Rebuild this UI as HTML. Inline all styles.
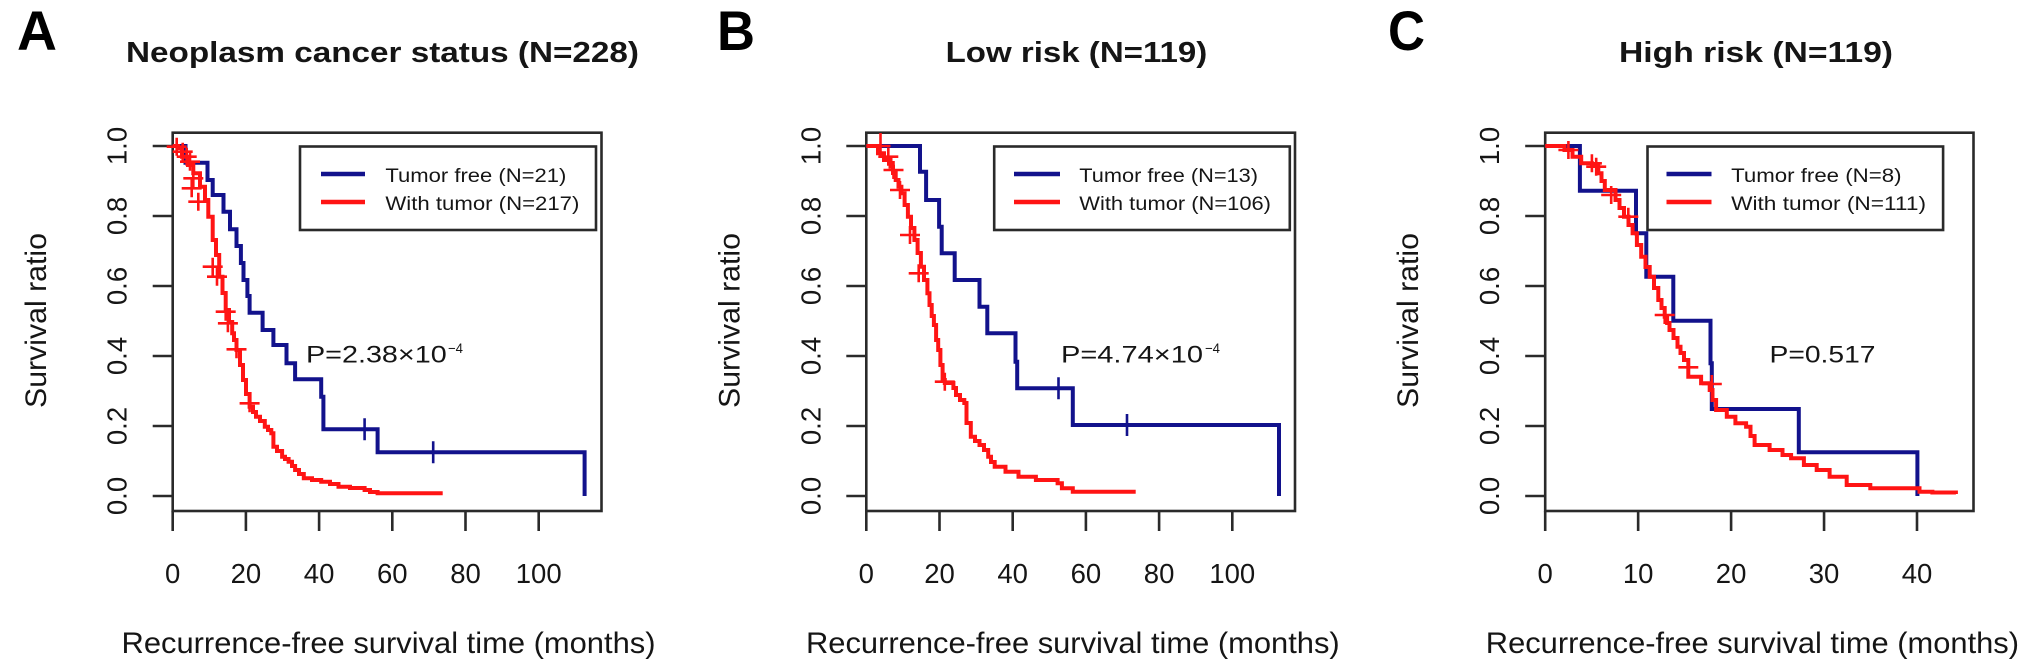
<!DOCTYPE html>
<html>
<head>
<meta charset="utf-8">
<style>
  html,body{margin:0;padding:0;background:#fff;}
  svg{display:block;}
  text{font-family:"Liberation Sans",Arial,sans-serif;fill:#151515;}
  .ttl{font-weight:bold;font-size:29px;}
  .lab{font-weight:bold;font-size:56px;fill:#000;}
  .tick{font-size:27.5px;}
  .ytick{font-size:27.5px;}
  .axt{font-size:29.5px;}
  .leg{font-size:19.5px;}
  .pv{font-size:24px;}
  .sup{font-size:14px;}
  .box{fill:none;stroke:#2a2a2a;stroke-width:2.6;}
  .tk{stroke:#2a2a2a;stroke-width:2.6;}
  .blue{fill:none;stroke:#12128c;stroke-width:4;stroke-linejoin:miter;}
  .red{fill:none;stroke:#ff1414;stroke-width:4;stroke-linejoin:miter;}
  .rc{fill:none;stroke:#ff1414;stroke-width:2.6;}
  .bc{fill:none;stroke:#12128c;stroke-width:2.6;}
</style>
</head>
<body>
<svg width="2031" height="664" viewBox="0 0 2031 664" xmlns="http://www.w3.org/2000/svg">
<rect width="2031" height="664" fill="#fff"/>

<!-- ================= PANEL A ================= -->
<text class="lab" x="17" y="50" textLength="40" lengthAdjust="spacingAndGlyphs">A</text>
<text class="ttl" x="126" y="62" textLength="513" lengthAdjust="spacingAndGlyphs">Neoplasm cancer status (N=228)</text>
<rect class="box" x="172.7" y="132.7" width="428.8" height="378.3"/>
<path class="tk" d="M152.7,146H172.7M152.7,216H172.7M152.7,286H172.7M152.7,356H172.7M152.7,426H172.7M152.7,496H172.7"/>
<g class="ytick" text-anchor="middle">
<text transform="translate(126.7,146) rotate(-90)">1.0</text>
<text transform="translate(126.7,216) rotate(-90)">0.8</text>
<text transform="translate(126.7,286) rotate(-90)">0.6</text>
<text transform="translate(126.7,356) rotate(-90)">0.4</text>
<text transform="translate(126.7,426) rotate(-90)">0.2</text>
<text transform="translate(126.7,496) rotate(-90)">0.0</text>
</g>
<text class="axt" text-anchor="middle" transform="translate(46,320.5) rotate(-90)" textLength="175" lengthAdjust="spacingAndGlyphs">Survival ratio</text>
<path class="tk" d="M172.7,511V531M245.9,511V531M319.1,511V531M392.3,511V531M465.5,511V531M538.7,511V531"/>
<g class="tick" text-anchor="middle">
<text x="172.7" y="583">0</text>
<text x="245.9" y="583">20</text>
<text x="319.1" y="583">40</text>
<text x="392.3" y="583">60</text>
<text x="465.5" y="583">80</text>
<text x="538.7" y="583">100</text>
</g>
<text class="axt" x="121.5" y="653" textLength="534" lengthAdjust="spacingAndGlyphs">Recurrence-free survival time (months)</text>
<rect class="box" x="300" y="146.5" width="296" height="83.5"/>
<path d="M321,174H365" stroke="#12128c" stroke-width="4.4"/>
<path d="M321,202H365" stroke="#ff1414" stroke-width="4.4"/>
<text class="leg" x="385.4" y="182" textLength="181" lengthAdjust="spacingAndGlyphs">Tumor free (N=21)</text>
<text class="leg" x="385.4" y="210" textLength="194" lengthAdjust="spacingAndGlyphs">With tumor (N=217)</text>
<text class="pv" x="306" y="362.7" textLength="140.7" lengthAdjust="spacingAndGlyphs">P=2.38×10</text>
<text class="sup" x="448" y="353" textLength="15" lengthAdjust="spacingAndGlyphs">−4</text>
<path class="blue" d="M172.7,146H185.5V162.7H207.5V180H212.7V195H223.5V211.7H230V229.3H236.5V246H240.9V263H243.5V280H247.4V296H249.6V312.7H262.6V330H273.4V345H286.5V363.3H295.1V379.3H321.2V396.7H323.4V429.3H377.6V452.3H584.6V496"/>
<path class="bc" d="M364.6,418.3V440.3M433.2,441.3V463.3"/>
<path class="red" d="M172.7,146H178V148H182V156.7H188V165H193.3V173.3H200V186.7H205V200H208.3V216.7H212.7V240H216V255H219.2V276.7H222.5V293H225.7V310H229V322H232.2V333.3H234V340H236.5V350H240V365H243V380H246V394H249.6V406.7H253V412H256V416.7H260V421H264.8V426.7H268V430H271.3V433.3H273.4V446.7H277V451H282.1V456.7H285V459H288.6V461.7H292V466H295.1V470H299V474H303.8V478.3H312V480H321.2V481.7H330V484H338.5V486.7H350V488H364.6V490H370V492H377.6V493.3H442.7"/>
<path class="rc" d="
M166.7,146.7h20M176.7,137.7v18
M172.7,151.7h20M182.7,142.7v18
M176.7,156.7h20M186.7,147.7v18
M180,161.7h20M190,152.7v18
M183.3,178.3h20M193.3,169.3v18
M181.7,188.3h20M191.7,179.3v18
M188.3,201.7h20M198.3,192.7v18
M202.7,266.7h20M212.7,257.7v18
M207,276.7h20M217,267.7v18
M215.7,311.7h20M225.7,302.7v18
M217.9,323.3h20M227.9,314.3v18
M226.5,349.3h20M236.5,340.3v18
M239.6,403.3h20M249.6,394.3v18"/>

<!-- ================= PANEL B ================= -->
<text class="lab" x="717" y="50" textLength="38" lengthAdjust="spacingAndGlyphs">B</text>
<text class="ttl" x="945.6" y="62" textLength="261.7" lengthAdjust="spacingAndGlyphs">Low risk (N=119)</text>
<rect class="box" x="866.3" y="132.7" width="428.7" height="378.3"/>
<path class="tk" d="M846.3,146H866.3M846.3,216H866.3M846.3,286H866.3M846.3,356H866.3M846.3,426H866.3M846.3,496H866.3"/>
<g class="ytick" text-anchor="middle">
<text transform="translate(820.3,146) rotate(-90)">1.0</text>
<text transform="translate(820.3,216) rotate(-90)">0.8</text>
<text transform="translate(820.3,286) rotate(-90)">0.6</text>
<text transform="translate(820.3,356) rotate(-90)">0.4</text>
<text transform="translate(820.3,426) rotate(-90)">0.2</text>
<text transform="translate(820.3,496) rotate(-90)">0.0</text>
</g>
<text class="axt" text-anchor="middle" transform="translate(739.3,320.5) rotate(-90)" textLength="175" lengthAdjust="spacingAndGlyphs">Survival ratio</text>
<path class="tk" d="M866.3,511V531M939.5,511V531M1012.7,511V531M1085.9,511V531M1159.1,511V531M1232.3,511V531"/>
<g class="tick" text-anchor="middle">
<text x="866.3" y="583">0</text>
<text x="939.5" y="583">20</text>
<text x="1012.7" y="583">40</text>
<text x="1085.9" y="583">60</text>
<text x="1159.1" y="583">80</text>
<text x="1232.3" y="583">100</text>
</g>
<text class="axt" x="806" y="653" textLength="533.7" lengthAdjust="spacingAndGlyphs">Recurrence-free survival time (months)</text>
<rect class="box" x="994.2" y="146.5" width="295.6" height="83.5"/>
<path d="M1014,174H1060" stroke="#12128c" stroke-width="4.4"/>
<path d="M1014,202H1060" stroke="#ff1414" stroke-width="4.4"/>
<text class="leg" x="1079.3" y="182" textLength="178.7" lengthAdjust="spacingAndGlyphs">Tumor free (N=13)</text>
<text class="leg" x="1079.3" y="210" textLength="191.7" lengthAdjust="spacingAndGlyphs">With tumor (N=106)</text>
<text class="pv" x="1061" y="362.7" textLength="142" lengthAdjust="spacingAndGlyphs">P=4.74×10</text>
<text class="sup" x="1205" y="353" textLength="15" lengthAdjust="spacingAndGlyphs">−4</text>
<path class="blue" d="M866.3,146H920V171.7H926.1V200H939.1V226.7H941.7V253.3H954.7V280H979.5V306.7H987.3V333.3H1015.5V361.7H1017.2V388.3H1072.8V425H1279V496"/>
<path class="bc" d="M1058.5,377.3V399.3M1127,414V436"/>
<path class="red" d="M866.3,146H878V153.3H884V160H890.5V166.7H893V173H895.7V180H898.5V186.7H901.4V193.3H904.6V205H907.9V216.7H911V228H914.4V240H917.6V253H920.9V266.7H924V280H927.4V293.3H929.5V305H931.7V316H933.9V325H936.1V340H938.2V350H940.4V365H942.6V380H944.8V383H953.4V388H956V395H960V400H964.3V403H966.5V423H970.8V436.7H975V441H979.5V445H984V450H988.2V456.7H991V462H994.7V466.7H1005.5V471.7H1018.5V476.7H1035.9V480H1057.6V483.3H1061.9V488.3H1072.8V491.7H1135.7"/>
<path class="rc" d="
M870.5,146h20M880.5,133v24
M878.3,156.7h20M888.3,147.7v18
M883.5,170h20M893.5,161v18
M890,190h20M900,181v18
M900,235h20M910,226v18
M908.7,273.3h20M918.7,264.3v18
M934.8,381.7h20M944.8,372.7v18"/>

<!-- ================= PANEL C ================= -->
<text class="lab" x="1388" y="50" textLength="37" lengthAdjust="spacingAndGlyphs">C</text>
<g transform="translate(-1.5,0)">
<text class="ttl" x="1620.5" y="62" textLength="274" lengthAdjust="spacingAndGlyphs">High risk (N=119)</text>
<rect class="box" x="1546.7" y="132.7" width="428.3" height="378.3"/>
<path class="tk" d="M1526.7,146H1546.7M1526.7,216H1546.7M1526.7,286H1546.7M1526.7,356H1546.7M1526.7,426H1546.7M1526.7,496H1546.7"/>
<g class="ytick" text-anchor="middle">
<text transform="translate(1500.7,146) rotate(-90)">1.0</text>
<text transform="translate(1500.7,216) rotate(-90)">0.8</text>
<text transform="translate(1500.7,286) rotate(-90)">0.6</text>
<text transform="translate(1500.7,356) rotate(-90)">0.4</text>
<text transform="translate(1500.7,426) rotate(-90)">0.2</text>
<text transform="translate(1500.7,496) rotate(-90)">0.0</text>
</g>
<text class="axt" text-anchor="middle" transform="translate(1419.5,320.5) rotate(-90)" textLength="175" lengthAdjust="spacingAndGlyphs">Survival ratio</text>
<path class="tk" d="M1546.7,511V531M1639.65,511V531M1732.6,511V531M1825.55,511V531M1918.5,511V531"/>
<g class="tick" text-anchor="middle">
<text x="1546.7" y="583">0</text>
<text x="1639.65" y="583">10</text>
<text x="1732.6" y="583">20</text>
<text x="1825.55" y="583">30</text>
<text x="1918.5" y="583">40</text>
</g>
<text class="axt" x="1487.3" y="653" textLength="533.2" lengthAdjust="spacingAndGlyphs">Recurrence-free survival time (months)</text>
<rect class="box" x="1649" y="146.5" width="295.6" height="83.5"/>
<path d="M1668,174H1713" stroke="#12128c" stroke-width="4.4"/>
<path d="M1668,202H1713" stroke="#ff1414" stroke-width="4.4"/>
<text class="leg" x="1732.6" y="182" textLength="170.4" lengthAdjust="spacingAndGlyphs">Tumor free (N=8)</text>
<text class="leg" x="1732.6" y="210" textLength="194.9" lengthAdjust="spacingAndGlyphs">With tumor (N=111)</text>
<text class="pv" x="1771" y="362.7" textLength="106" lengthAdjust="spacingAndGlyphs">P=0.517</text>
<path class="blue" d="M1546.7,146H1581.4V190.7H1637.5V233.3H1647.8V276.7H1674.8V320.7H1712V363.3H1713.3V409H1800.3V452.3H1918.9V496"/>
<path class="red" d="M1546.7,146H1566V150H1574V156.7H1582.7V163.3H1593.4V165H1599.8V173.3H1603V181H1606.3V190H1617V200H1621V208H1625.5V216.7H1630V225H1634.1V233.3H1638.4V245H1642.7V256.7H1647V267H1651.2V276.7H1655.5V288H1659.8V300H1663V308H1666.2V316.7H1668.6V323H1671V330H1675V338H1679V346.7H1682V353H1685.5V360H1689.8V376.7H1702.6V383.3H1711.2V390H1714V400H1717.6V410H1728.3V416.7H1736.9V423.3H1747.6V426.7H1752V436H1756.1V445H1771.1V450H1784V455H1792.6V458.3H1805.4V465H1818.2V470H1831.1V476.7H1848.2V485H1871.8V488.3H1921V491.7H1933.9V492.5H1957.4V494"/>
<path class="rc" d="
M1559.9,150h20M1569.9,141v18
M1583.4,163.3h20M1593.4,154.3v18
M1587.7,166.7h20M1597.7,157.7v18
M1602.7,195h20M1612.7,186v18
M1619.8,216.7h20M1629.8,207.7v18
M1656.2,315h20M1666.2,306v18
M1679.8,367.3h20M1689.8,358.3v18
M1703.3,384h20M1713.3,375v18"/>
</g>
</svg>
</body>
</html>
